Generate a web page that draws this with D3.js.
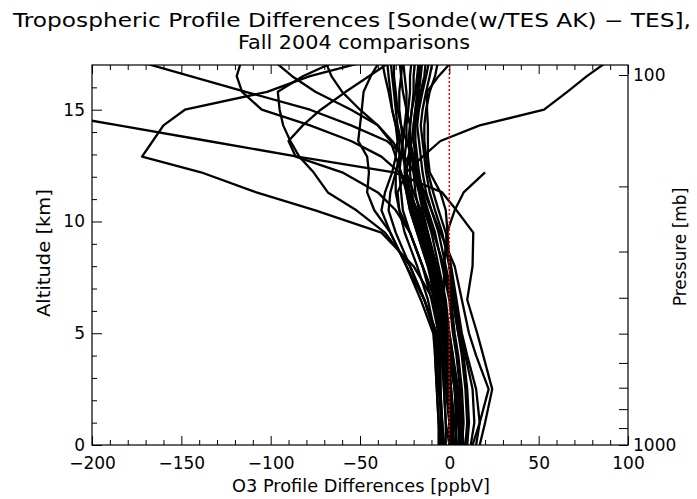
<!DOCTYPE html>
<html><head><meta charset="utf-8">
<script src="https://cdn.jsdelivr.net/npm/d3@7"></script>
<style>
html,body{margin:0;padding:0;background:#fff;}
text{font-family:"DejaVu Sans",sans-serif;fill:#000;}
</style></head>
<body><svg id="chart" width="697" height="499"></svg>
<script>
// ---- data ----
const titleLines = ["Tropospheric Profile Differences [Sonde(w/TES AK) \u2212 TES],", "Fall 2004 comparisons"];
const xLabel = "O3 Profile Differences [ppbV]";
const yLabel = "Altitude [km]";
const y2Label = "Pressure [mb]";
const xTicks = [-200, -150, -100, -50, 0, 50, 100];
const yTicks = [0, 5, 10, 15];
const pressureTicks = [100, 200, 300, 400, 500, 600, 700, 800, 900, 1000];
const pressureLabels = [100, 1000];
const altitudeKm = [0, 1, 2.5, 4, 5, 6.5, 8, 9.5, 10.5, 11.3, 12.2, 12.9, 13.6, 14.3, 15, 15.8, 16.5, 17.3];

const p01 = [17, 20, 24, 19, 15.6, 10, 13, 13.4, 4, -4, -31, -85, -135, -185, -236, null, null, null];
const p02 = [13, 17, 22, 15, 11, 7, 3, -5, -10, -14, -18, -20, -22, -22, -24, -26, -27, -28];
const p03 = [0, -2, -3, -4, -6, -9, -20, -38, -75, -108, -139, -172, -166, -160, -148, -102, -78, -40];
const p04 = [6, 5, 3, 0, -2, -5, -8, -12, -15, -17, -20, -25, -35, -55, -78, -114, -145, -180];
const p05 = [4, 3, 1, -1, -3, -5, -9, -14, -18, -22, -28, -38, -55, -78, -105, -116, -119, -116];
const p06 = [-3, -4, -5, -6, -8, -14, -22, -36, -52, -68, -76, -84, -89, -93, -95, -96, -82, -60];
const p07 = [2, 1, 0, -2, -2, -3, -3, -1.3, 3, 8, 20, null, null, null, null, null, null, null];
const p08 = [8, 6, 3, 0, -3, -8, -15, -22, -28, -29, -24, -15, -5, 17, 53, 66, 77, 91];
const p09 = [10, 11, 10, 8, 5, 2, 0, -1, -2, -5, -11, -12, -12, -12, -12.5, -12.5, -6, 3];
const p10 = [-5, -5, -5, -5, -7, -14, -24, -33, -42, -46, -45, -46, -51, -50, -49, -48, -44, -38];
const p11 = [8, 7, 5, 2, 0, -3, -7, -12, -16, -20, -24, -26, -32, -40, -50, -60, -66, -70];
const p12 = [2, 1, 0, -2, -4, -8, -15, -22, -30, -40, -60, -86, -90, -82, -72, -58, -45, -30];
const p13 = [-6, -6, -7, -8, -8, -12, -18, -25, -28, -30, -30, -28, -28, -30, -32, -33, -34, -35];
const p14 = [-4, -4, -5, -5, -6, -10, -15, -22, -26, -27, -28, -27, -26, -27, -28, -28, -27, -26];
const p15 = [-2, -2, -3, -4, -5, -8, -12, -18, -22, -24, -25, -25, -24, -24, -23, -22, -22, -21];
const p16 = [0, 0, -1, -2, -3, -6, -10, -15, -19, -21, -22, -22, -23, -22, -21, -20, -20, -19];
const p17 = [2, 2, 1, 0, -1, -4, -8, -13, -17, -19, -20, -21, -22, -22, -21, -19, -18, -17];
const p18 = [4, 4, 3, 2, 0, -2, -6, -10, -14, -16, -18, -19, -20, -20, -19, -17, -16, -15];
const p19 = [6, 7, 6, 4, 2, 0, -4, -8, -12, -15, -17, -18, -19, -19, -18, -16, -14, -13];
const p20 = [9, 10, 9, 7, 5, 2, -2, -6, -10, -13, -15, -16, -17, -18, -17, -15, -13, -11];
const p21 = [12, 14, 13, 9, 6, 3, 0, -4, -8, -11, -13, -14, -15, -16, -15, -13, -11, -9];
const p22 = [15, 17, 15, 10, 7, 4, 1, -2, -6, -9, -12, -13, -14, -14, -13, -11, -8, -6];
const p23 = [-5, -6, -7, -8, -9, -16, -24, -33, -38, -36, -32, -30, -29, -30, -32, -34, -36, -38];
const p24 = [-3, -4, -6, -7, -8, -14, -22, -30, -34, -33, -30, -27, -26, -25, -24, -24, -25, -26];
const p25 = [1, 0, -2, -3, -4, -7, -11, -17, -21, -23, -24, -23, -21, -20, -19, -18, -17, -16];
const p26 = [7, 8, 7, 5, 3, 1, -3, -9, -13, -16, -19, -21, -24, -27, -29, -30, -31, -31];
const p27 = [3, 4, 3, 1, -1, -5, -10, -16, -20, -22, -24, -25, -27, -29, -30, -31, -32, -33];
const p28 = [5, 6, 4, 1, -1, -6, -12, -18, -22, -24, -27, -30, -33, -40, -55, -75, -88, -100];
const profiles = [p01,p02,p03,p04,p05,p06,p07,p08,p09,p10,p11,p12,p13,p14,p15,p16,p17,p18,p19,p20,p21,p22,p23,p24,p25,p26,p27,p28];

// ---- layout ----
const L = 92, R = 628, T = 65, B = 445;
const svg = d3.select("#chart");
const x = d3.scaleLinear().domain([-200, 100]).range([L, R]);
const y = d3.scaleLinear().domain([0, 17]).range([B, T]);
const yp = d3.scaleLog().domain([1000, 100]).range([B, 75]);

svg.append("defs").append("clipPath").attr("id", "clip")
  .append("rect").attr("x", L).attr("y", T).attr("width", R - L).attr("height", B - T);

// title
svg.append("text").attr("x", 352).attr("y", 27).attr("text-anchor", "middle")
  .attr("textLength", 678).attr("lengthAdjust", "spacingAndGlyphs")
  .style("font-size", "19px").text(titleLines[0]);
svg.append("text").attr("x", 354).attr("y", 49).attr("text-anchor", "middle")
  .attr("textLength", 232).attr("lengthAdjust", "spacingAndGlyphs")
  .style("font-size", "19px").text(titleLines[1]);

// profiles
const line = d3.line()
  .defined(d => d[0] !== null)
  .x(d => x(d[0])).y(d => y(d[1]));
const g = svg.append("g").attr("clip-path", "url(#clip)");
profiles.forEach(p => {
  g.append("path").datum(p.map((v, i) => [v, altitudeKm[i]]))
    .attr("d", line).attr("fill", "none").attr("stroke", "#000")
    .attr("stroke-width", 2.3).attr("stroke-linejoin", "round");
});
// zero line
g.append("line").attr("x1", x(0)).attr("x2", x(0)).attr("y1", T).attr("y2", B)
  .attr("stroke", "#ff0000").attr("stroke-width", 1.5).attr("stroke-dasharray", "2,2");

// axes
function styleAxis(sel) {
  sel.select(".domain").remove();
  sel.selectAll("line").attr("stroke", "#000");
  sel.selectAll("text").style("font-size", "17px").attr("fill", "#000");
}
const tickFmt = d => d < 0 ? "\u2212" + Math.abs(d) : String(d);
const minorX = d3.range(-190, 100, 10).filter(v => v % 50 !== 0);
svg.append("g").attr("transform", `translate(0,${B})`)
  .call(d3.axisBottom(x).tickValues(xTicks).tickSize(-9).tickPadding(12).tickFormat(tickFmt)).call(styleAxis);
svg.append("g").attr("transform", `translate(0,${B})`)
  .call(d3.axisBottom(x).tickValues(minorX).tickSize(-5).tickFormat("")).call(styleAxis);
svg.append("g").attr("transform", `translate(0,${T})`)
  .call(d3.axisTop(x).tickValues(xTicks).tickSize(-9).tickFormat("")).call(styleAxis);
svg.append("g").attr("transform", `translate(0,${T})`)
  .call(d3.axisTop(x).tickValues(minorX).tickSize(-5).tickFormat("")).call(styleAxis);
svg.append("g").attr("transform", `translate(${L},0)`)
  .call(d3.axisLeft(y).tickValues(yTicks).tickSize(-10).tickPadding(7)).call(styleAxis);
svg.append("g").attr("transform", `translate(${L},0)`)
  .call(d3.axisLeft(y).tickValues(d3.range(1, 17).filter(v => v % 5 !== 0)).tickSize(-5).tickFormat("")).call(styleAxis);
svg.append("g").attr("transform", `translate(${R},0)`)
  .call(d3.axisRight(yp).tickValues(pressureTicks).tickSize(-9).tickPadding(5)
    .tickFormat(d => pressureLabels.includes(d) ? String(d) : "")).call(styleAxis);

// frame
svg.append("rect").attr("x", L).attr("y", T).attr("width", R - L).attr("height", B - T)
  .attr("fill", "none").attr("stroke", "#000").attr("stroke-width", 1.2);

// axis titles
svg.append("text").attr("x", 361).attr("y", 492).attr("text-anchor", "middle")
  .attr("textLength", 258).attr("lengthAdjust", "spacingAndGlyphs")
  .style("font-size", "17px").text(xLabel);
svg.append("text").attr("transform", `translate(50,253) rotate(-90)`).attr("text-anchor", "middle")
  .attr("textLength", 128).attr("lengthAdjust", "spacingAndGlyphs")
  .style("font-size", "17px").text(yLabel);
svg.append("text").attr("transform", `translate(686,247) rotate(-90)`).attr("text-anchor", "middle")
  .style("font-size", "17px").text(y2Label);
</script></body></html>
